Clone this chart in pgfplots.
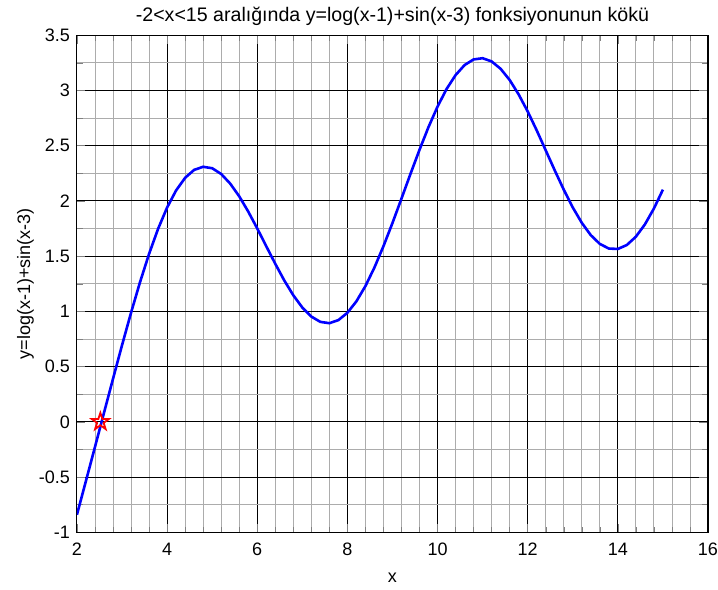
\documentclass[border=0pt]{standalone}
\usepackage{fontspec}
\setmainfont{Liberation Sans}
\usepackage{pgfplots}
\pgfplotsset{compat=1.18}

% five-pointed star like MATLAB's 'p' marker
\pgfdeclareplotmark{pentagram}{%
  \pgfpathmoveto{\pgfpointpolar{90}{\pgfplotmarksize}}%
  \pgfpathlineto{\pgfpointpolar{126}{0.382\pgfplotmarksize}}%
  \pgfpathlineto{\pgfpointpolar{162}{\pgfplotmarksize}}%
  \pgfpathlineto{\pgfpointpolar{198}{0.382\pgfplotmarksize}}%
  \pgfpathlineto{\pgfpointpolar{234}{\pgfplotmarksize}}%
  \pgfpathlineto{\pgfpointpolar{270}{0.382\pgfplotmarksize}}%
  \pgfpathlineto{\pgfpointpolar{306}{\pgfplotmarksize}}%
  \pgfpathlineto{\pgfpointpolar{342}{0.382\pgfplotmarksize}}%
  \pgfpathlineto{\pgfpointpolar{18}{\pgfplotmarksize}}%
  \pgfpathlineto{\pgfpointpolar{54}{0.382\pgfplotmarksize}}%
  \pgfpathclose
  \pgfusepathqstroke
}

\begin{document}
\begin{tikzpicture}
\begin{axis}[
    scale only axis,
    width=315.5pt, height=248.5pt,
    xmin=2, xmax=16, ymin=-1, ymax=3.5,
    xtick={2,4,...,16},
    ytick={-1,-0.5,...,3.5},
    minor x tick num=4,
    minor y tick num=1,
    grid=both,
    major grid style={black, line width=0.55pt},
    minor grid style={gray!65, line width=0.4pt},
    tick align=inside,
    xtick pos=both, ytick pos=both,
    axis line style={black, line width=0.55pt},
    font=\fontsize{9}{10}\selectfont,
    /pgf/number format/assume math mode=true,
    yticklabel style={/pgf/number format/fixed},
    xticklabel style={yshift=-2pt, inner xsep=0pt},
    title style={font=\fontsize{9.8}{11}\selectfont, yshift=-4.5pt},
    xlabel style={yshift=-1.5pt},
    ylabel style={inner ysep=8.5pt, yshift=-9.5pt},
    title={-2<x<15 aralığında y=log(x-1)+sin(x-3) fonksiyonunun kökü},
    xlabel={x},
    ylabel={y=log(x-1)+sin(x-3)},
]
\addplot[blue, line width=1.3pt] coordinates {
(2.0,-0.841) (2.2,-0.535) (2.4,-0.228) (2.6,0.081) (2.8,0.389)
(3.0,0.693) (3.2,0.987) (3.4,1.265) (3.6,1.520) (3.8,1.747)
(4.0,1.940) (4.2,2.095) (4.4,2.209) (4.6,2.281) (4.8,2.309)
(5.0,2.296) (5.2,2.244) (5.4,2.157) (5.6,2.042) (5.8,1.904)
(6.0,1.751) (6.2,1.590) (6.4,1.431) (6.6,1.280) (6.8,1.146)
(7.0,1.035) (7.2,0.953) (7.4,0.905) (7.6,0.893) (7.8,0.921)
(8.0,0.987) (8.2,1.091) (8.4,1.229) (8.6,1.397) (8.8,1.590)
(9.0,1.800) (9.2,2.021) (9.4,2.245) (9.6,2.463) (9.8,2.669)
(10.0,2.854) (10.2,3.013) (10.4,3.139) (10.6,3.230) (10.8,3.281)
(11.0,3.292) (11.2,3.263) (11.4,3.196) (11.6,3.095) (11.8,2.964)
(12.0,2.810) (12.2,2.639) (12.4,2.458) (12.6,2.277) (12.8,2.102)
(13.0,1.941) (13.2,1.802) (13.4,1.690) (13.6,1.611) (13.8,1.569)
(14.0,1.565) (14.2,1.601) (14.4,1.676) (14.6,1.787) (14.8,1.931)
(15.0,2.102)
};
\addplot[only marks, mark=pentagram, mark size=4.5pt, red, line width=0.9pt] coordinates {(2.52,0)};
\end{axis}
\end{tikzpicture}
\end{document}
